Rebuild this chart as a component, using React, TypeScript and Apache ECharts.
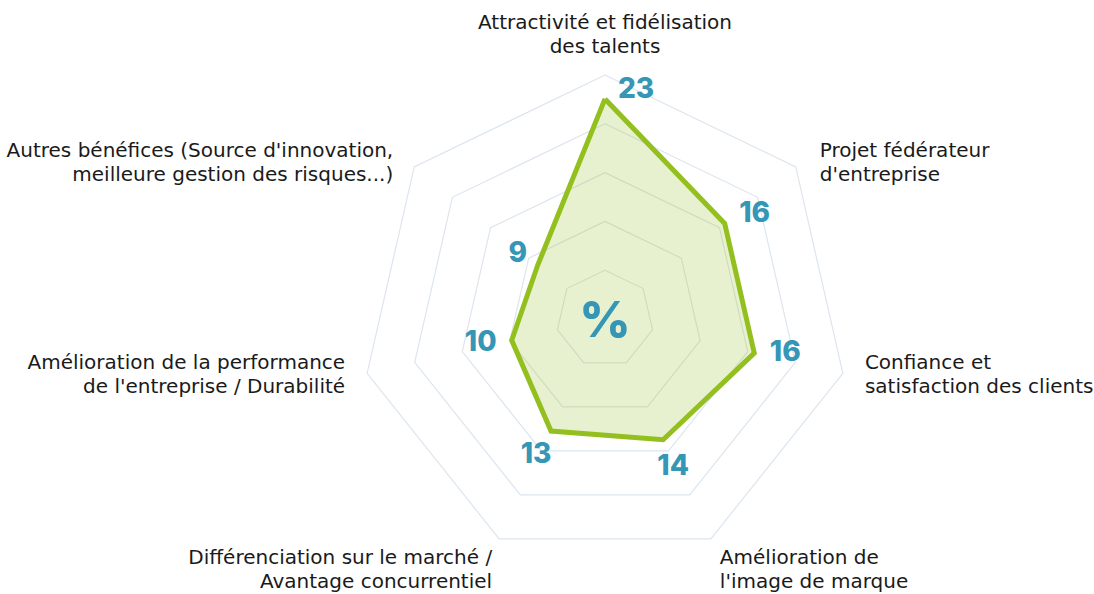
import React, { useEffect, useRef } from "react";
import * as echarts from "echarts";

const indicatorNames = [
  "Attractivité et fidélisation\ndes talents",
  "Autres bénéfices (Source d'innovation,\nmeilleure gestion des risques...)",
  "Amélioration de la performance\nde l'entreprise / Durabilité",
  "Différenciation sur le marché /\nAvantage concurrentiel",
  "Amélioration de\nl'image de marque",
  "Confiance et\nsatisfaction des clients",
  "Projet fédérateur\nd'entreprise",
];
const values = [23, 9, 10, 13, 14, 16, 16];
const maxValue = 25.5;
const centerLabel = "%";

// pixel offsets of each value label from its vertex (style only)
const labelOffsets: [number, number][] = [
  [31, -11],
  [-20, -13],
  [-31, 1],
  [-15, 22],
  [10, 25],
  [31, -2],
  [30, -12],
];
// pixel offsets / alignment of each indicator name from the outer ring vertex (style only)
const nameOffsets: [number, number, string][] = [
  [0, -41, "center"],
  [-21, -4.5, "right"],
  [-22, 0.7, "right"],
  [-7, 30, "right"],
  [9, 30, "left"],
  [22, 0.7, "left"],
  [24, -4.5, "left"],
];

const NAME_FONT = "'DejaVu Sans', sans-serif";
const NUM_FONT = "Inter, 'Open Sans', sans-serif";
const BLUE = "#3596b5";
const GREEN = "#93c01f";

export default function App() {
  const ref = useRef<HTMLDivElement>(null);
  useEffect(() => {
    if (!ref.current) return;
    const chart = echarts.init(ref.current, undefined, { renderer: "svg" });
    chart.setOption({
      animation: false,
      backgroundColor: "#ffffff",
      radar: {
        center: [605, 319],
        radius: 244,
        startAngle: 90,
        splitNumber: 5,
        shape: "polygon",
        indicator: indicatorNames.map((name) => ({ name, max: maxValue, min: 0 })),
        axisName: { show: false },
        axisLine: { show: false },
        axisTick: { show: false },
        axisLabel: { show: false },
        splitArea: { show: false },
        splitLine: { lineStyle: { color: "#dde5ee", width: 1.2 } },
      },
      series: [
        {
          type: "radar",
          symbol: "none",
          lineStyle: { color: GREEN, width: 5, join: "miter" },
          areaStyle: { color: "rgba(147,192,31,0.31)" },
          data: [{ value: values }],
        },
      ],
    });

    const coord = (chart as any).getModel().getComponent("radar", 0).coordinateSystem;
    const graphics: any[] = [];
    indicatorNames.forEach((name, i) => {
      const p = coord.dataToPoint(maxValue, i);
      graphics.push({
        type: "text",
        x: p[0] + nameOffsets[i][0],
        y: p[1] + nameOffsets[i][1],
        z: 100,
        style: {
          text: name,
          fill: "#1a1a1a",
          fontSize: 20,
          lineHeight: 24,
          fontFamily: NAME_FONT,
          align: nameOffsets[i][2],
          verticalAlign: "middle",
        },
      });
    });
    values.forEach((v, i) => {
      const p = coord.dataToPoint(v, i);
      graphics.push({
        type: "text",
        x: p[0] + labelOffsets[i][0],
        y: p[1] + labelOffsets[i][1],
        z: 100,
        style: {
          text: String(v),
          fill: BLUE,
          fontSize: 28,
          fontWeight: 800,
          fontFamily: NUM_FONT,
          align: "center",
          verticalAlign: "middle",
        },
      });
    });
    graphics.push({
      type: "text",
      x: coord.cx,
      y: coord.cy,
      z: 100,
      style: {
        text: centerLabel,
        fill: BLUE,
        fontSize: 50,
        fontWeight: 800,
        fontFamily: NUM_FONT,
        align: "center",
        verticalAlign: "middle",
      },
    });
    chart.setOption({ graphic: graphics });

    return () => chart.dispose();
  }, []);
  return (
    <div
      ref={ref}
      style={{ position: "fixed", left: 0, top: 0, width: 1094, height: 594 }}
    />
  );
}
